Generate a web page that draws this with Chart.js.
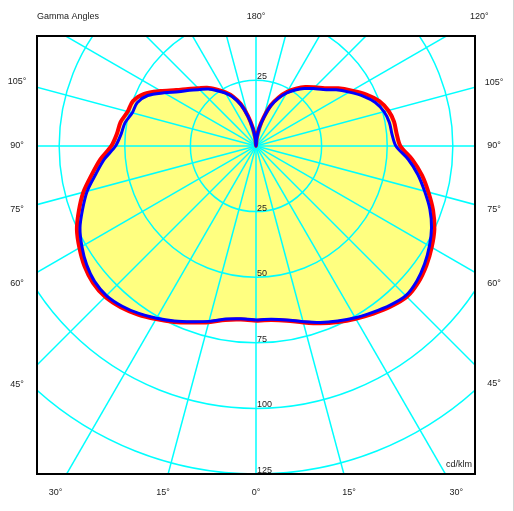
<!DOCTYPE html>
<html>
<head>
<meta charset="utf-8">
<script src="https://cdn.jsdelivr.net/npm/chart.js@4.4.0/dist/chart.umd.min.js"></script>
<style>
  html, body { margin: 0; padding: 0; background: #fff; }
  #wrap { width: 514px; height: 511px; position: relative; }
  #wrap:after { content: ''; position: absolute; left: 513px; top: 0; width: 1px; height: 511px; background: #d4d4d4; }
</style>
</head>
<body>
<div id="wrap"><canvas id="myChart" width="514" height="511"></canvas></div>
<script>
// gamma angles of the readings (deg, 0 = straight down)
var gamma = [0,5,10,15,20,25,30,35,40,45,50,55,60,65,70,75,80,85,90,
             95,100,105,110,115,120,125,130,135,140,145,150,155,160,165,170,175,180];

// red curve (cd/klm), right and left half
var redRight = [66.6,66.6,67.6,69.6,71.9,74.0,76.0,78.0,79.9,81.3,80.8,79.3,77.3,75.0,71.8,68.0,64.2,59.8,55.0,
                53.8,53.4,52.2,50.0,46.4,42.2,38.3,34.2,31.6,29.3,26.6,23.8,20.4,16.5,11.3,7.0,3.1,0];
var redLeft  = [66.6,66.4,67.3,69.5,71.6,74.0,76.2,78.4,80.2,81.3,81.1,79.8,77.7,75.3,71.8,68.1,63.6,59.6,55.1,
                53.2,52.4,50.6,49.9,47.0,41.9,37.1,33.8,31.1,29.0,26.3,23.7,20.8,17.0,11.9,7.0,3.1,0];

// blue curve (cd/klm), right and left half
var blueRight = [66.3,66.3,67.3,69.3,71.6,73.6,75.6,77.4,79.3,80.7,80.0,78.4,76.3,73.8,70.5,66.5,62.6,58.2,53.3,
                 52.0,51.6,50.5,48.4,45.0,41.0,37.3,33.4,30.9,28.6,26.0,23.3,20.0,16.2,11.0,6.8,3.0,0];
var blueLeft  = [66.3,66.1,67.0,69.2,71.3,73.6,75.8,77.9,79.6,80.6,80.3,78.8,76.6,74.0,70.3,66.6,62.0,58.0,53.5,
                 51.6,50.7,48.8,48.2,45.5,40.5,36.0,33.0,30.4,28.3,25.7,23.2,20.4,16.6,11.6,6.8,3.0,0];

// grid
var rings = [25, 50, 75, 100, 125, 150];
var ringLabels = [25, 50, 75, 100, 125];
var sideTicks = [45, 60, 75, 90, 105];
var bottomTicks = [0, 15, 30];
var topTicks = [180, 120];

function toLoop(right, left) {
    var pts = [];
    var i, a;
    for (i = 0; i < gamma.length; i++) {
        a = gamma[i] * Math.PI / 180;
        pts.push({x: right[i] * Math.sin(a), y: -right[i] * Math.cos(a)});
    }
    for (i = gamma.length - 2; i >= 0; i--) {
        a = gamma[i] * Math.PI / 180;
        pts.push({x: -left[i] * Math.sin(a), y: -left[i] * Math.cos(a)});
    }
    return pts;
}

var redPts = toLoop(redRight, redLeft);
var bluePts = toLoop(blueRight, blueLeft);

var FONT = '9px "Liberation Sans", Arial, sans-serif';

var polarGrid = {
    id: 'polarGrid',
    afterDatasetDraw: function(chart, args) {
        if (args.index !== 2) return; // right after the yellow fill
        var xs = chart.scales.x, ys = chart.scales.y, ca = chart.chartArea, ctx = chart.ctx;
        var cx = xs.getPixelForValue(0), cy = ys.getPixelForValue(0);
        ctx.save();
        ctx.beginPath();
        ctx.rect(ca.left, ca.top, ca.right - ca.left, ca.bottom - ca.top);
        ctx.clip();
        ctx.strokeStyle = '#00ffff';
        ctx.lineWidth = 1.5;
        rings.forEach(function(r) {
            var rp = xs.getPixelForValue(r) - cx;
            ctx.beginPath();
            ctx.arc(cx, cy, rp, 0, 2 * Math.PI);
            ctx.stroke();
        });
        for (var g = 0; g < 360; g += 15) {
            var a = g * Math.PI / 180;
            ctx.beginPath();
            ctx.moveTo(cx, cy);
            ctx.lineTo(xs.getPixelForValue(300 * Math.sin(a)), ys.getPixelForValue(-300 * Math.cos(a)));
            ctx.stroke();
        }
        ctx.fillStyle = '#222';
        ctx.font = FONT;
        ctx.textAlign = 'left';
        ctx.textBaseline = 'bottom';
        ctx.fillText('25', cx + 1, ys.getPixelForValue(25) + 1);
        ringLabels.forEach(function(r) {
            ctx.fillText(String(r), cx + 1, ys.getPixelForValue(-r) + 1);
        });
        ctx.restore();
    },
    afterDraw: function(chart) {
        var xs = chart.scales.x, ys = chart.scales.y, ca = chart.chartArea, ctx = chart.ctx;
        ctx.save();
        ctx.strokeStyle = '#000';
        ctx.lineWidth = 2;
        ctx.strokeRect(ca.left, ca.top, ca.right - ca.left, ca.bottom - ca.top);

        ctx.fillStyle = '#222';
        ctx.font = FONT;
        ctx.textBaseline = 'middle';

        // top
        var ty = ca.top - 19, tv = ys.getValueForPixel(ty);
        ctx.textAlign = 'left';
        ctx.fillText('Gamma Angles', ca.left, ty);
        ctx.textAlign = 'center';
        topTicks.forEach(function(g) {
            var a = g * Math.PI / 180;
            var t = tv / (-Math.cos(a));
            ctx.fillText(g + '°', xs.getPixelForValue(t * Math.sin(a)), ty);
        });
        // bottom
        var by = ca.bottom + 19, bv = ys.getValueForPixel(by);
        bottomTicks.forEach(function(g) {
            var a = g * Math.PI / 180;
            var t = bv / (-Math.cos(a));
            ctx.fillText(g + '°', xs.getPixelForValue(t * Math.sin(a)), by);
            if (g !== 0) ctx.fillText(g + '°', xs.getPixelForValue(-t * Math.sin(a)), by);
        });
        // sides
        var lx = ca.left - 20, lu = xs.getValueForPixel(lx);
        var rx = ca.right + 19, ru = xs.getValueForPixel(rx);
        sideTicks.forEach(function(g) {
            var a = g * Math.PI / 180;
            var tl = lu / (-Math.sin(a));
            ctx.fillText(g + '°', lx, ys.getPixelForValue(-tl * Math.cos(a)));
            var tr = ru / Math.sin(a);
            ctx.fillText(g + '°', rx, ys.getPixelForValue(-tr * Math.cos(a)));
        });

        ctx.textAlign = 'right';
        ctx.fillText('cd/klm', ca.right - 3, ca.bottom - 9);
        ctx.restore();
    }
};

var ctx = document.getElementById('myChart').getContext('2d');
var polarChart = new Chart(ctx, {
    type: 'scatter',
    data: {
        datasets: [{
            label: 'blue',
            data: bluePts,
            showLine: true,
            borderColor: 'rgb(0, 0, 255)',
            borderWidth: 3,
            pointRadius: 0,
            tension: 0.3,
            fill: false
        }, {
            label: 'red',
            data: redPts,
            showLine: true,
            borderColor: 'rgb(255, 0, 0)',
            borderWidth: 4,
            pointRadius: 0,
            tension: 0.3,
            fill: false
        }, {
            label: 'fill',
            data: redPts,
            showLine: true,
            borderWidth: 0,
            borderColor: 'rgba(0,0,0,0)',
            backgroundColor: 'rgb(255, 255, 128)',
            pointRadius: 0,
            tension: 0.3,
            fill: 'shape'
        }]
    },
    options: {
        responsive: false,
        animation: false,
        layout: { padding: { left: 37, top: 36, right: 39, bottom: 37 } },
        scales: {
            x: { type: 'linear', display: false, min: -83.45, max: 83.45 },
            y: { type: 'linear', display: false, min: -125, max: 41.9 }
        },
        plugins: {
            legend: { display: false },
            tooltip: { enabled: false }
        }
    },
    plugins: [polarGrid]
});
</script>
</body>
</html>
